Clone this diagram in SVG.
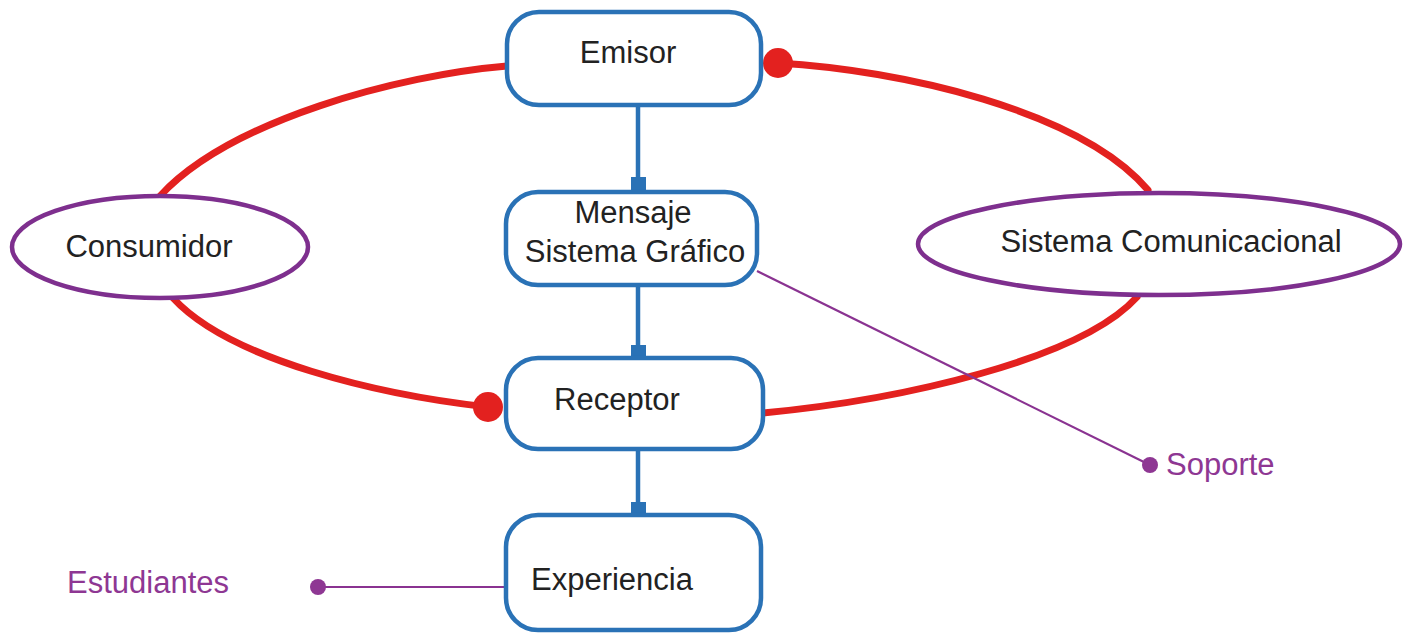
<svg xmlns="http://www.w3.org/2000/svg" width="1406" height="635" viewBox="0 0 1406 635">
<style>
.box{fill:#fff;stroke:#2a72b6;stroke-width:4.5}
.ell{fill:#fff;stroke:#7e2f8e;stroke-width:4.5}
.red{fill:none;stroke:#e3211f;stroke-width:7;stroke-linecap:round}
.blue{fill:none;stroke:#2a72b6;stroke-width:4.5}
.sq{fill:#2a72b6}
.pl{fill:none;stroke:#8a3391;stroke-width:2.2}
.t{font-family:"Liberation Sans",Arial,sans-serif;font-size:31px;fill:#222;text-anchor:middle}
.pt{font-family:"Liberation Sans",Arial,sans-serif;font-size:31px;fill:#8e3793}
</style>
<rect width="1406" height="635" fill="#fff"/>
<g id="connectors">
<path class="red" d="M507,66 C400,75 230,120 160,196"/>
<path class="red" d="M173,298 C230,360 380,395 488,407"/>
<path class="red" d="M778,63 C900,70 1080,110 1148,190"/>
<path class="red" d="M763,413 C900,400 1080,360 1137,297"/>
<circle cx="778" cy="63" r="15" fill="#e3211f"/>
<circle cx="488" cy="407" r="15" fill="#e3211f"/>
<line class="blue" x1="638" y1="107" x2="638" y2="190"/>
<rect class="sq" x="631" y="177" width="15" height="14"/>
<line class="blue" x1="638" y1="287" x2="638" y2="358"/>
<rect class="sq" x="631" y="345" width="15" height="14"/>
<line class="blue" x1="638" y1="450" x2="638" y2="515"/>
<rect class="sq" x="631" y="502" width="15" height="14"/>
<line class="pl" x1="757" y1="271" x2="1150" y2="465"/>
<circle cx="1150" cy="465" r="8" fill="#8e3793"/>
<line class="pl" x1="318" y1="587" x2="506" y2="587"/>
<circle cx="318" cy="587" r="8" fill="#8e3793"/>
</g>
<g id="emisor">
<rect class="box" x="507" y="12" width="254" height="93" rx="32"/>
<text class="t" x="628" y="63">Emisor</text>
</g>
<g id="mensaje">
<rect class="box" x="506" y="192" width="251" height="93" rx="32"/>
<text class="t" x="633" y="223">Mensaje</text>
<text class="t" x="635" y="262">Sistema Gráfico</text>
</g>
<g id="receptor">
<rect class="box" x="506" y="358" width="257" height="91" rx="32"/>
<text class="t" x="617" y="410">Receptor</text>
</g>
<g id="experiencia">
<rect class="box" x="506" y="515" width="255" height="115" rx="32"/>
<text class="t" x="612" y="590">Experiencia</text>
</g>
<g id="consumidor">
<ellipse class="ell" cx="160" cy="247" rx="148" ry="51"/>
<text class="t" x="149" y="257">Consumidor</text>
</g>
<g id="sistema-comunicacional">
<ellipse class="ell" cx="1159" cy="244" rx="241" ry="51"/>
<text class="t" x="1171" y="252">Sistema Comunicacional</text>
</g>
<g id="soporte">
<text class="pt" x="1166" y="475">Soporte</text>
</g>
<g id="estudiantes">
<text class="pt" x="67" y="593">Estudiantes</text>
</g>
</svg>
